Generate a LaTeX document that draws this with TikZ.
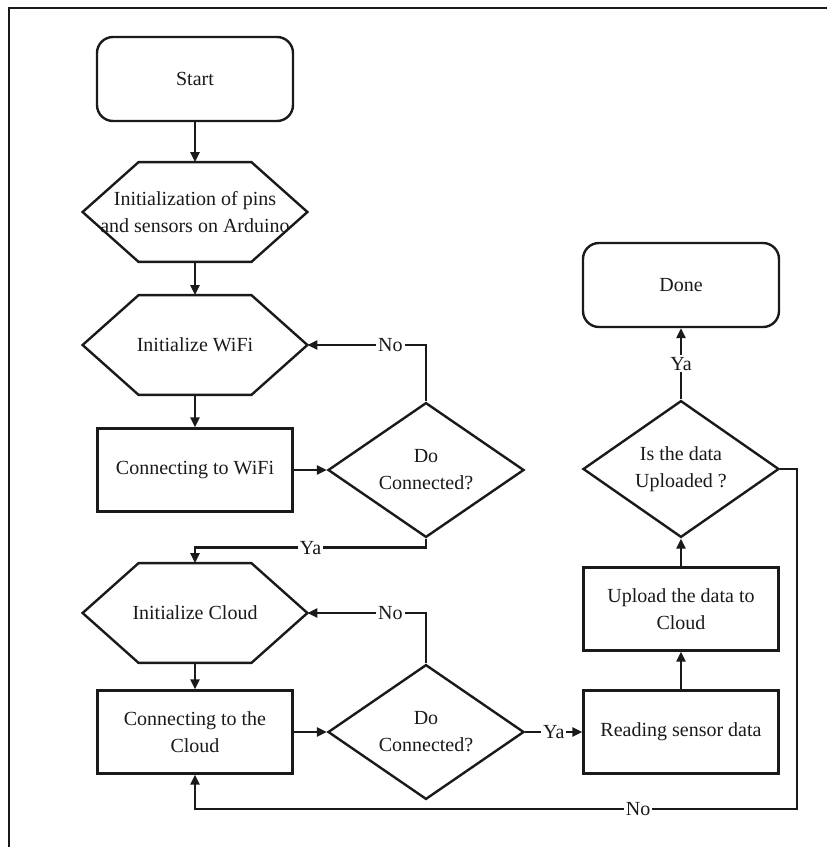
\documentclass[tikz,border=0pt]{standalone}
\usepackage{fontspec}
\setmainfont{Liberation Serif}
\usetikzlibrary{arrows.meta,shapes.geometric}
\definecolor{ink}{HTML}{1A1A1A}

\tikzset{
  wire/.style={ink,line width=1.2pt},
  arr/.style={wire,-{Triangle[length=5pt,width=4.5pt]}},
  termbox/.style={wire,draw,rounded corners=8pt,minimum width=98pt,minimum height=42pt,align=center},
  procbox/.style={wire,draw,minimum width=97.5pt,minimum height=41.5pt,align=center},
  hexbox/.style={text=ink,minimum width=112pt,minimum height=49.5pt,align=center},
  decbox/.style={wire,draw,diamond,minimum width=98pt,minimum height=67pt,inner sep=0pt,align=center},
  lbl/.style={fill=white,inner sep=1pt,text=ink}
}

\begin{document}
\begin{tikzpicture}[x=0.5pt,y=-0.5pt,font=\fontsize{10}{13.5}\selectfont]
  \useasboundingbox (0,0) rectangle (827,847);
  \draw[wire] (9,847) -- (9,8) -- (827,8);

  % left column
  \node[termbox] (start) at (195,79) {Start};
  \node[hexbox] (pins) at (195,212) {Initialization of pins\\and sensors on Arduino};
  \node[hexbox] (wifi) at (195,345) {Initialize WiFi};
  \node[procbox] (conwifi) at (195,470) {Connecting to WiFi};
  \node[decbox] (askwifi) at (426,470) {Do\\Connected?};
  \node[hexbox] (cloud) at (195,613) {Initialize Cloud};
  \node[procbox] (concloud) at (195,732) {Connecting to the\\Cloud};
  \node[decbox] (askcloud) at (426,732) {Do\\Connected?};

  % right column
  \node[procbox] (read) at (681,732) {Reading sensor data};
  \node[procbox] (upload) at (681,609) {Upload the data to\\Cloud};
  \node[decbox] (askup) at (681,469) {Is the data\\Uploaded ?};
  \node[termbox] (done) at (681,285) {Done};

  \foreach \h in {pins,wifi,cloud}
    \draw[wire] (\h.west) -- ([xshift=28pt]\h.north west) -- ([xshift=-28pt]\h.north east)
      -- (\h.east) -- ([xshift=-28pt]\h.south east) -- ([xshift=28pt]\h.south west) -- cycle;

  \draw[arr] (start) -- (pins);
  \draw[arr] (pins) -- (wifi);
  \draw[arr] (wifi) -- (conwifi);
  \draw[arr] (conwifi) -- (askwifi);
  \draw[arr] (askwifi.north) |- node[lbl,pos=0.65] {No} (wifi.east);
  \draw[arr] (askwifi.south) -- ++(0,9) -| node[lbl,pos=0.25] {Ya} (cloud.north);
  \draw[arr] (cloud) -- (concloud);
  \draw[arr] (concloud) -- (askcloud);
  \draw[arr] (askcloud.north) |- node[lbl,pos=0.65] {No} (cloud.east);
  \draw[arr] (askcloud) -- node[lbl] {Ya} (read);
  \draw[arr] (read) -- (upload);
  \draw[arr] (upload) -- (askup);
  \draw[arr] (askup) -- node[lbl] {Ya} (done);
  \coordinate (back) at (797,809);
  \draw[arr] (askup.east) -| (back) -- node[lbl,pos=0.264] {No} (back -| concloud) -- (concloud);
\end{tikzpicture}
\end{document}
